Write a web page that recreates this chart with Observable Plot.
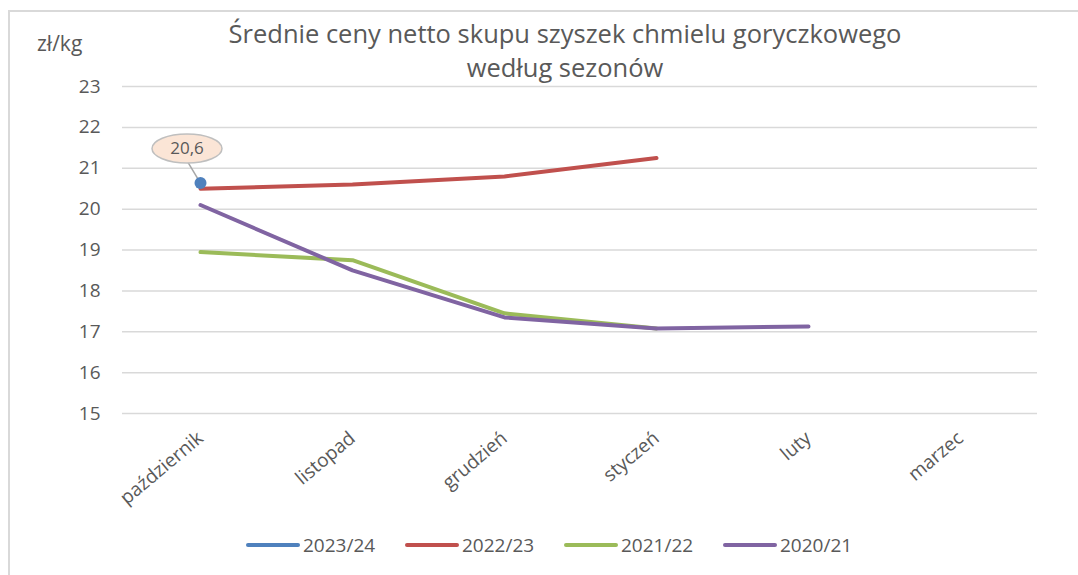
<!DOCTYPE html>
<html>
<head>
<meta charset="utf-8">
<script src="https://cdn.jsdelivr.net/npm/d3@7"></script>
<script src="https://cdn.jsdelivr.net/npm/@observablehq/plot@0.6"></script>
<style>
  html, body { margin: 0; padding: 0; background: #fff; }
  #wrap { position: relative; width: 1078px; height: 575px; overflow: hidden; font-family: "Open Sans", sans-serif; color: #595959; }
  #frame { position: absolute; left: 8px; top: 10px; width: 1200px; height: 700px; border: 2px solid #d9d9d9; box-sizing: border-box; }
  #chart { position: absolute; left: 0; top: 0; }
  .title { position: absolute; left: 565px; transform: translateX(-50%); text-align: center; font-size: 25.5px; line-height: 30px; white-space: nowrap; }
  #t1 { top: 18px; }
  #t2 { top: 52px; }
  #unit { position: absolute; left: 37px; top: 29px; font-size: 21px; }
  #legend { position: absolute; left: 246px; top: 532px; display: flex; font-size: 19px; }
  .item { display: flex; align-items: center; width: 159px; }
  .sw { width: 54px; height: 4px; border-radius: 2px; margin-right: 3px; }
</style>
</head>
<body>
<div id="wrap">
  <div id="frame"></div>
  <div id="chart"></div>
  <div class="title" id="t1">Średnie ceny netto skupu szyszek chmielu goryczkowego</div>
  <div class="title" id="t2">według sezonów</div>
  <div id="unit">zł/kg</div>
  <div id="legend"></div>
</div>
<script>
const months = ["październik", "listopad", "grudzień", "styczeń", "luty", "marzec"];
const seasons = ["2023/24", "2022/23", "2021/22", "2020/21"];
const colors = ["#4f81bd", "#c0504d", "#9bbb59", "#8064a2"];
const s2023_24 = [20.64, null, null, null, null, null];
const s2022_23 = [20.5, 20.6, 20.8, 21.25, null, null];
const s2021_22 = [18.95, 18.75, 17.45, 17.08, null, null];
const s2020_21 = [20.1, 18.5, 17.35, 17.08, 17.13, null];
const yTicks = [15, 16, 17, 18, 19, 20, 21, 22, 23];

const seriesValues = [s2023_24, s2022_23, s2021_22, s2020_21];
const rows = [];
seasons.forEach((s, i) => {
  seriesValues[i].forEach((v, j) => {
    if (v != null) rows.push({season: s, month: months[j], value: v});
  });
});
const lineRows = rows.filter(d => d.season !== "2023/24");
const dotRows = rows.filter(d => d.season === "2023/24");
const fmt = v => d3.format(".1f")(v).replace(".", ",");

const callout = (index, scales) => {
  const g = d3.create("svg:g");
  dotRows.forEach(d => {
    const px = scales.x(d.month), py = scales.y(d.value);
    const cx = px - 13, cy = py - 34;
    g.append("line").attr("x1", cx + 1).attr("y1", cy + 14).attr("x2", px).attr("y2", py)
      .attr("stroke", "#a6a6a6").attr("stroke-width", 1.5);
    g.append("ellipse").attr("cx", cx).attr("cy", cy).attr("rx", 35).attr("ry", 14.5)
      .attr("fill", "#fbe5d6").attr("stroke", "#bfbfbf").attr("stroke-width", 1.5);
    g.append("text").attr("x", cx).attr("y", cy).attr("text-anchor", "middle")
      .attr("dy", "0.35em").attr("font-size", 17).attr("fill", "#595959").text(fmt(d.value));
  });
  return g.node();
};

const plot = Plot.plot({
  width: 1078,
  height: 575,
  marginLeft: 122,
  marginRight: 41,
  marginTop: 86,
  marginBottom: 162,
  style: {fontFamily: "Open Sans, sans-serif", color: "#595959", background: "transparent"},
  x: {type: "point", domain: months, padding: 0.5, label: null},
  y: {domain: [15, 23], label: null},
  color: {domain: seasons, range: colors},
  marks: [
    Plot.gridY({ticks: yTicks, stroke: "#d9d9d9", strokeOpacity: 1, strokeWidth: 1.5}),
    Plot.axisY({ticks: yTicks, tickSize: 0, tickPadding: 22, fontSize: 19, label: null}),
    Plot.axisX({tickSize: 0, tickRotate: -40, tickPadding: 22, fontSize: 19, label: null}),
    Plot.line(lineRows, {x: "month", y: "value", z: "season", stroke: "season", strokeWidth: 4, strokeLinecap: "round", strokeLinejoin: "round"}),
    callout,
    Plot.dot(dotRows, {x: "month", y: "value", r: 6, fill: "season"})
  ]
});
document.getElementById("chart").appendChild(plot);

const legend = document.getElementById("legend");
seasons.forEach((s, i) => {
  const it = document.createElement("div");
  it.className = "item";
  const sw = document.createElement("div");
  sw.className = "sw";
  sw.style.background = colors[i];
  const t = document.createElement("span");
  t.textContent = s;
  it.appendChild(sw);
  it.appendChild(t);
  legend.appendChild(it);
});
</script>
</body>
</html>
